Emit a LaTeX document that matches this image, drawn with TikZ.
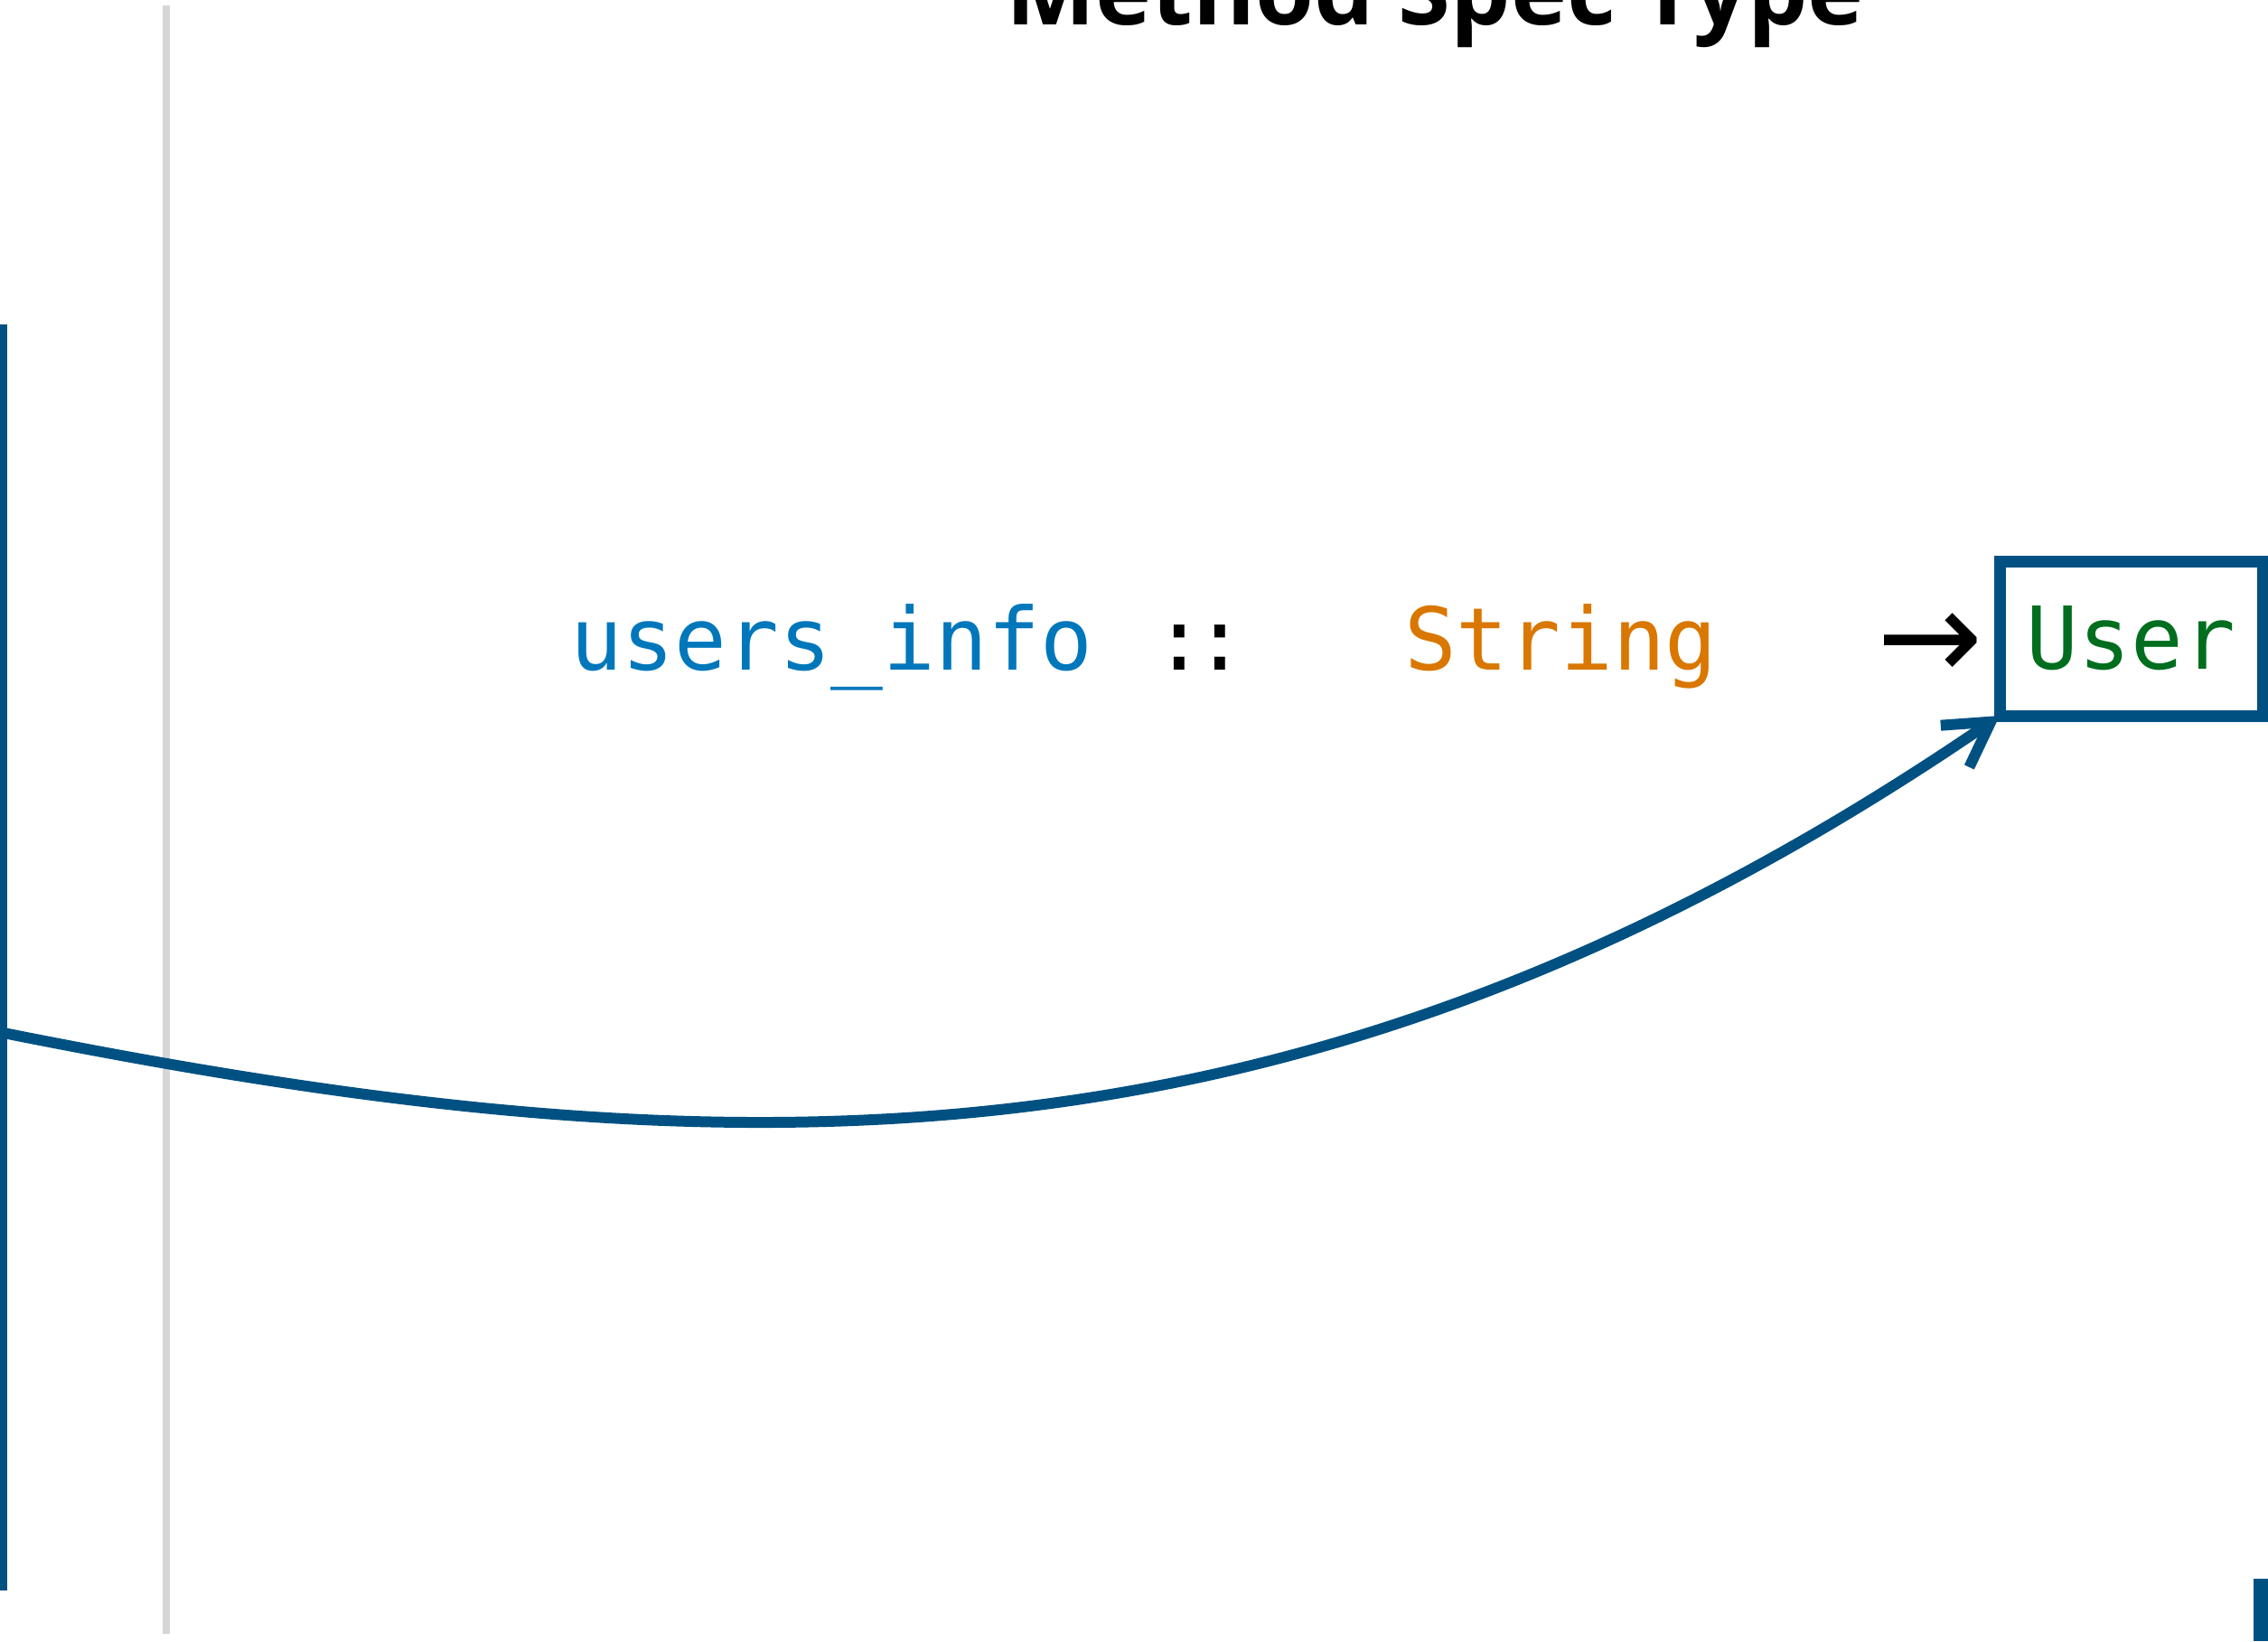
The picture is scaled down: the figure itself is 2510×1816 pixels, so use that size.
\documentclass[tikz,border=0pt]{standalone}
\usepackage{fontspec}
\newfontfamily\codefont{DejaVu Sans Mono}
\newfontfamily\titlefont{Open Sans}
\newfontfamily\arrowfont{DejaVu Sans}
\usetikzlibrary{arrows.meta}
\definecolor{edgeblue}{RGB}{0,81,130}
\definecolor{railgray}{RGB}{214,214,214}
\definecolor{idblue}{RGB}{0,119,187}
\definecolor{typeorange}{RGB}{217,119,0}
\definecolor{typegreen}{RGB}{0,110,30}
\begin{document}
\begin{tikzpicture}[x=1pt,y=-1pt,
  codetext/.style={font=\codefont\fontsize{96}{110}\selectfont, inner sep=0pt, outer sep=0pt},
  typebox/.style={codetext, draw=edgeblue, line width=13pt, minimum width=291pt, minimum height=171pt, text=typegreen},
  flow/.style={draw=edgeblue, line width=12pt, -{Straight Barb[length=48pt,width=56pt]}}
]
\useasboundingbox (0,0) rectangle (2510,1816);
% rails and edges
\fill[edgeblue] (0,359) rectangle (8,1760);
\fill[railgray] (180,6) rectangle (188,1808);
\fill[edgeblue] (2494,1747) rectangle (2510,1816);
% title
\node[font=\titlefont\bfseries\fontsize{105}{120}\selectfont, anchor=base, inner sep=0pt] (title) at (1588,27) {Method Spec Type};
% signature
\node[codetext, anchor=base west, text=idblue] (name) at (631,741) {users\_info};
\node[codetext, anchor=base] (colons) at (1328,741) {:\kern-13pt:};
\node[codetext, anchor=base west, text=typeorange] (arg) at (1554,741) {String};
\node[font=\arrowfont\fontsize{140}{150}\selectfont, inner sep=0pt, anchor=center] (to) at (2136,716) {→};
\node[typebox] (user) at (2358.5,706.5) {User};
% connector
\coordinate (src) at (4,1143);
\draw[flow] (src) .. controls (804,1303) and (1440,1320) .. (user.south west);
\end{tikzpicture}
\end{document}
